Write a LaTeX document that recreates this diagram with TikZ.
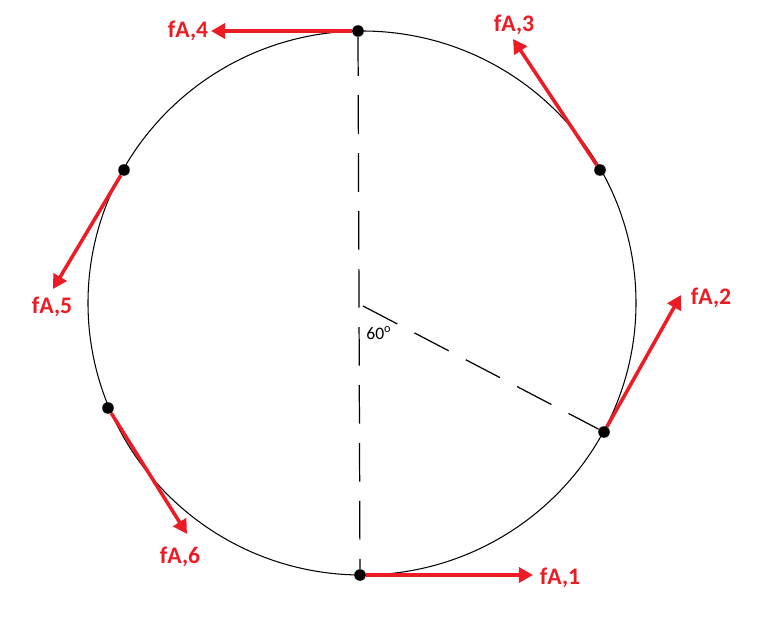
\documentclass[tikz,border=0pt]{standalone}
\usepackage{fontspec}
\setmainfont{Carlito}
\definecolor{fa_red}{RGB}{237, 28, 36}
\usetikzlibrary{arrows.meta}

\tikzset{
  dot/.style={circle, fill=black, inner sep=0pt, minimum size=6.6pt},
  force/.style={draw=fa_red, line width=2pt, -{Triangle[length=8pt, width=8.5pt]}},
  flabel/.style={color=fa_red, font=\fontsize{13.5}{16}\selectfont\bfseries},
  axis line/.style={line width=0.7pt, dash pattern=on 22pt off 11pt}
}

\begin{document}
\begin{tikzpicture}[x=0.02cm, y=-0.02cm]
    \useasboundingbox (0,0) rectangle (765,632);

    \draw[line width=0.6pt] (362,303) ellipse [x radius=274, y radius=272];

    \coordinate (ctr) at (363,306);

    \node[dot] (p1) at (360,575) {};
    \node[dot] (p2) at (604,432) {};
    \node[dot] (p3) at (600,170) {};
    \node[dot] (p4) at (358,31)  {};
    \node[dot] (p5) at (124,170) {};
    \node[dot] (p6) at (108,408) {};

    \draw[axis line] (p4) -- (p1);
    \draw[axis line] (ctr) -- (p2);
    \node[font=\fontsize{10}{12}\selectfont] (ang) at (379,333) {60\textsuperscript{o}};

    \coordinate (e1) at (533,575);
    \coordinate (e2) at (681,295);
    \coordinate (e3) at (513,39);
    \coordinate (e4) at (211,31);
    \coordinate (e5) at (53,289);
    \coordinate (e6) at (187,534);

    \draw[force] (p1) -- (e1);
    \draw[force] (p2) -- (e2);
    \draw[force] (p3) -- (e3);
    \draw[force] (p4) -- (e4);
    \draw[force] (p5) -- (e5);
    \draw[force] (p6) -- (e6);

    \node[flabel] (l1) at (560,578) {fA,1};
    \node[flabel] (l2) at (711,298) {fA,2};
    \node[flabel] (l3) at (514,25)  {fA,3};
    \node[flabel] (l4) at (188,31)  {fA,4};
    \node[flabel] (l5) at (52,307)  {fA,5};
    \node[flabel] (l6) at (180,557) {fA,6};
  \end{tikzpicture}
\end{document}
